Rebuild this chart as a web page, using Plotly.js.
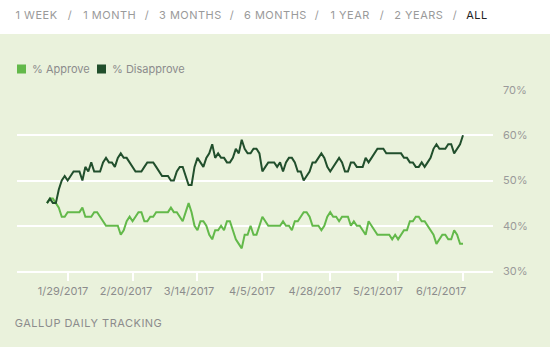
<!DOCTYPE html>
<html>
<head>
<meta charset="utf-8">
<script src="https://cdn.plot.ly/plotly-3.0.1.min.js"></script>
<style>
html,body{margin:0;padding:0;background:#fff;}
#chart{width:550px;height:347px;}
#chart g.annotation.spaced text{letter-spacing:0.5px;}
</style>
</head>
<body>
<div id="chart"></div>
<script>
// ---- data ----
const startDate = '2017-01-22';
const approve = [
  45,46,46,45,44,42,42,43,43,43,
  43,43,44,42,42,42,43,43,42,41,
  40,40,40,40,40,38,39,41,42,41,
  42,43,43,41,41,42,42,43,43,43,
  43,43,44,43,43,42,41,43,45,43,
  40,39,41,41,40,38,37,39,39,40,
  39,41,41,39,37,36,35,38,38,40,
  38,38,40,42,41,40,40,40,40,40,
  41,40,40,39,41,41,42,43,43,42,
  40,40,40,39,40,42,43,42,42,41,
  42,42,42,40,41,40,40,39,38,41,
  40,39,38,38,38,38,38,37,38,37,
  38,39,39,41,41,42,42,41,41,40,
  39,38,36,37,38,38,37,37,39,38,
  36,36
];
const disapprove = [
  45,46,45,45,48,50,51,50,51,52,
  52,52,50,53,52,54,52,52,52,54,
  55,54,54,53,55,56,55,55,54,53,
  52,52,52,53,54,54,54,53,52,51,
  51,51,50,50,52,53,53,51,49,49,
  53,55,54,53,55,56,58,55,56,55,
  55,54,54,55,57,56,59,57,56,56,
  57,57,56,52,53,54,54,54,53,54,
  52,54,55,55,54,52,52,50,51,52,
  54,54,55,56,55,53,52,53,54,55,
  54,52,52,54,54,53,53,53,55,54,
  55,56,57,57,57,56,56,56,56,56,
  56,55,55,54,54,53,53,54,53,54,
  55,57,58,57,57,57,58,58,56,57,
  58,60
];
const seriesNames = ['% Approve', '% Disapprove'];
const tickDates = ['2017-01-29','2017-02-20','2017-03-14','2017-04-05','2017-04-28','2017-05-21','2017-06-12'];
const tickLabels = ['1/29/2017','2/20/2017','3/14/2017','4/5/2017','4/28/2017','5/21/2017','6/12/2017'];
const yTicks = [30, 40, 50, 60, 70];
const rangeLabels = ['1 WEEK','/','1 MONTH','/','3 MONTHS','/','6 MONTHS','/','1 YEAR','/','2 YEARS','/','ALL'];
const sourceLabel = 'GALLUP DAILY TRACKING';

// ---- build ----
function dayList(start, n) {
  const out = [];
  const d0 = new Date(start + 'T00:00:00Z');
  for (let i = 0; i < n; i++) {
    const d = new Date(d0.getTime() + i * 86400000);
    out.push(d.toISOString().slice(0, 10));
  }
  return out;
}
const dates = dayList(startDate, approve.length);

const W = 550, H = 347;
const L = 17, R = 493, T = 90, B = 271;
const pw = R - L, ph = B - T;
const px = x => (x - L) / pw;
const py = y => (B - y) / ph;

const colors = ['#63b94a', '#214f2c'];
const grey = '#8c8c8c';
const FONT = 'Inter, "Open Sans", "DejaVu Sans", sans-serif';

const traces = [
  {x: dates, y: approve, type: 'scatter', mode: 'lines', name: seriesNames[0],
   line: {color: colors[0], width: 2}, showlegend: false},
  {x: dates, y: disapprove, type: 'scatter', mode: 'lines', name: seriesNames[1],
   line: {color: colors[1], width: 2}, showlegend: false},
  {x: [0], y: [null], xaxis: 'x2', yaxis: 'y', type: 'scatter', mode: 'markers',
   showlegend: false, hoverinfo: 'skip'}
];

// annotations: range selector labels (centred), source line, legend labels
const rangeCenters = [37, 70, 109, 147, 190, 232, 275, 317, 350, 382, 419, 455, 477];
const annotations = rangeLabels.map((t, i) => ({
  text: t, xref: 'paper', yref: 'paper', x: px(rangeCenters[i]), y: py(15),
  xanchor: 'center', yanchor: 'middle', showarrow: false,
  font: {family: FONT, size: 11, color: t === 'ALL' ? '#222' : '#9a9a9a'}
}));
annotations.push({
  text: sourceLabel, xref: 'paper', yref: 'paper', x: px(88.5), y: py(323),
  xanchor: 'center', yanchor: 'middle', showarrow: false,
  font: {family: FONT, size: 11, color: grey}
});
const nSpaced = annotations.length;
const legendSq = [17, 97];
const legendTx = [30, 110];
seriesNames.forEach((n, i) => annotations.push({
  text: n, xref: 'paper', yref: 'paper', x: px(legendTx[i]), y: py(69),
  xanchor: 'left', yanchor: 'middle', showarrow: false,
  font: {family: FONT, size: 11, color: grey}
}));

const shapes = [{type: 'rect', xref: 'paper', yref: 'paper', x0: -0.2, x1: 1.3,
                 y0: py(34), y1: py(-10), fillcolor: '#ffffff', line: {width: 0}, layer: 'below'}];
seriesNames.forEach((n, i) => shapes.push({
  type: 'rect', xref: 'paper', yref: 'paper', x0: px(legendSq[i]), x1: px(legendSq[i] + 9),
  y0: py(73.5), y1: py(64.5), fillcolor: colors[i], line: {width: 0}
}));

const layout = {
  width: W, height: H,
  margin: {l: L, r: W - R, t: T, b: H - B, pad: 0},
  paper_bgcolor: '#eaf2dc', plot_bgcolor: '#eaf2dc',
  font: {family: FONT, size: 11, color: grey},
  showlegend: false,
  xaxis: {type: 'date', range: ['2017-01-11 20:00', '2017-06-22 04:00'],
          tickmode: 'array', tickvals: tickDates, showticklabels: false,
          ticks: 'outside', ticklen: 8, tickwidth: 2, tickcolor: '#ffffff',
          showgrid: false, zeroline: false, showline: true, linecolor: '#ffffff', linewidth: 2},
  xaxis2: {overlaying: 'x', anchor: 'y', side: 'bottom', range: [-0.730, 6.825],
           tickmode: 'array', tickvals: tickLabels.map((_, i) => i), ticktext: tickLabels,
           ticks: '', showgrid: false, zeroline: false, showline: false,
           ticklabelstandoff: 12, tickfont: {family: FONT, size: 11, color: grey}},
  yaxis: {side: 'right', range: [30, 70], tickmode: 'array', tickvals: yTicks,
          ticktext: yTicks.map(v => v + '%'),
          showgrid: true, gridcolor: '#ffffff', gridwidth: 2, zeroline: false, showline: false,
          ticks: '', ticklabelstandoff: 9, tickfont: {family: FONT, size: 11, color: '#9a9a9a'}},
  shapes: shapes,
  annotations: annotations
};

function markSpaced() {
  document.querySelectorAll('#chart g.annotation').forEach(g => {
    const idx = parseInt(g.getAttribute('data-index'), 10);
    if (idx < nSpaced) g.classList.add('spaced');
  });
}
Plotly.newPlot('chart', traces, layout, {displayModeBar: false, staticPlot: true}).then(markSpaced);
</script>
</body>
</html>
